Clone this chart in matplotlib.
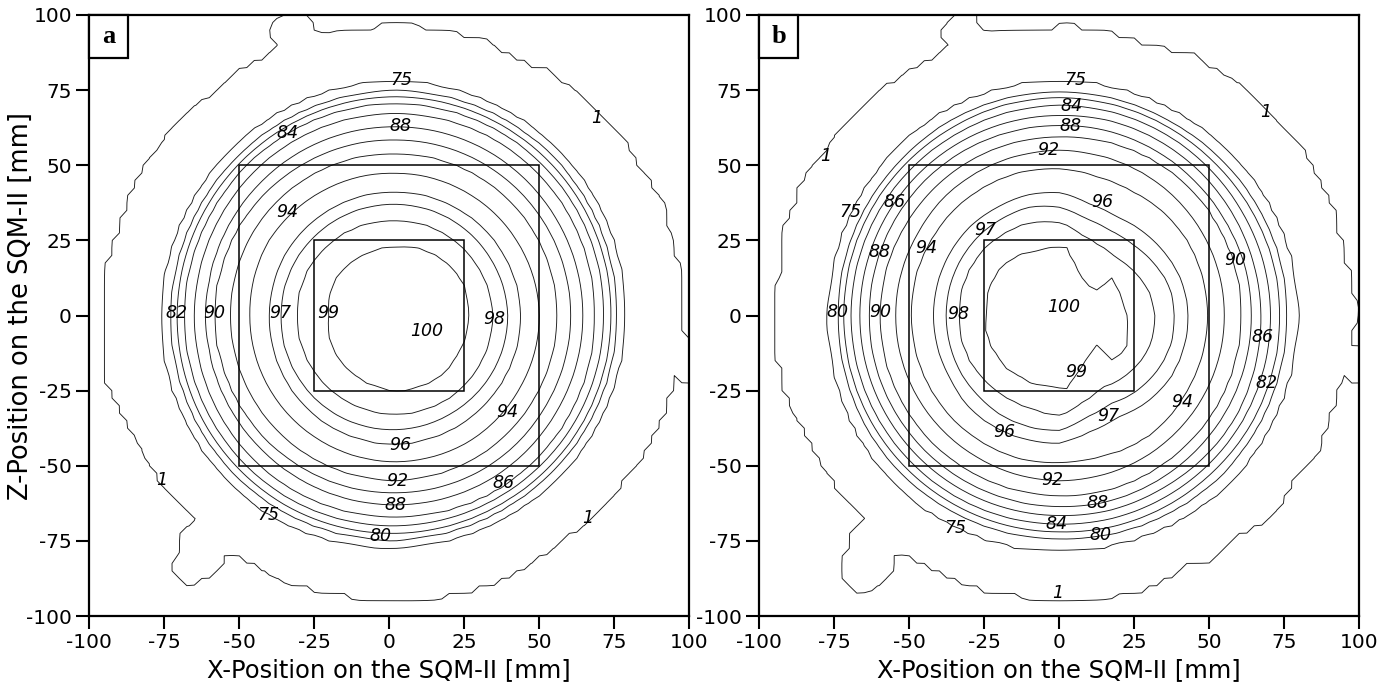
import numpy as np
import matplotlib
matplotlib.use("Agg")
import matplotlib.pyplot as plt
from matplotlib.path import Path
from matplotlib.patches import Rectangle

# ---------------- data ----------------
levels = [1, 75, 80, 82, 84, 86, 88, 90, 92, 94, 96, 97, 98, 99]
ticks = [-100, -75, -50, -25, 0, 25, 50, 75, 100]
boxes = [50, 25]
panel_names = ["a", "b"]

# Panel a: contour radii (mm) around the centre, at the listed angles (deg)
a_center = (2.0, 0.0)
a_angles = [0, 30, 60, 90, 120, 150, 180, 210, 240, 270, 300, 330]
a_r75 = [77.0, 77.5, 78.0, 78.4, 78.2, 78.0, 78.5, 78.7, 79.0, 77.5, 77.0, 77.0]
a_r80 = [74.0, 74.5, 75.0, 75.0, 74.8, 74.8, 75.0, 75.5, 75.5, 75.0, 74.0, 74.0]
a_r82 = [72.0, 72.3, 72.5, 72.8, 72.5, 72.5, 72.7, 73.0, 73.0, 72.5, 72.0, 72.0]
a_r84 = [69.5, 70.0, 70.5, 70.6, 70.6, 70.3, 70.5, 70.5, 70.5, 70.0, 69.5, 69.5]
a_r86 = [66.5, 67.0, 67.3, 67.3, 67.3, 67.0, 67.0, 67.3, 67.5, 67.2, 67.5, 67.0]
a_r88 = [62.5, 62.5, 62.8, 62.8, 63.0, 63.0, 63.0, 63.0, 63.0, 63.0, 63.0, 62.5]
a_r90 = [58.5, 58.5, 58.5, 58.4, 59.0, 60.0, 60.5, 60.0, 59.5, 59.0, 59.0, 58.5]
a_r92 = [54.0, 54.0, 54.0, 54.0, 54.5, 55.0, 55.0, 55.0, 55.0, 55.0, 54.5, 54.0]
a_r94 = [48.0, 47.5, 47.3, 47.3, 48.0, 49.0, 48.5, 48.5, 48.5, 48.6, 48.6, 48.0]
a_r96 = [42.0, 41.5, 41.2, 41.2, 41.5, 42.0, 42.0, 42.5, 43.0, 43.0, 42.5, 42.0]
a_r97 = [37.5, 37.0, 37.0, 37.1, 37.5, 38.0, 38.3, 38.5, 38.5, 38.0, 37.5, 37.5]
a_r98 = [32.7, 32.0, 31.8, 31.8, 32.3, 33.0, 33.0, 33.0, 33.0, 33.0, 33.0, 32.7]
a_r99 = [24.9, 25.2, 24.3, 22.9, 23.0, 23.5, 22.3, 23.8, 24.3, 25.2, 25.4, 24.7]

# Panel a: the irregular "1" contour (mm)
a_edge1_x = [-94, -94, -92, -88.4, -87.8, -84.2, -78.7, -70.9, -62, -53.1, -48.1, -43.1,
             -38.6, -33.7, -38.6, -38.1, -34.8, -34.5, -28.5, -28.1, -25.3, -22.5, -18.7,
             -13.1, -7.5, 1.9, 15.8, 31.3, 35.8, 47.5, 53.6, 62.5, 71.3, 78, 81.3, 84.7, 88,
             91.9, 93, 96.9, 97.5, 99, 106, 106, 100, 93.6, 93, 91.3, 86.9, 82.5, 75.8, 66.9,
             58, 49.1, 38, 29.1, 20.2, 6.9, -7.5, -18.7, -25.3, -37.5, -42, -49.8, -53.1,
             -55.5, -55.9, -62.5, -68.7, -72.2, -68.9, -68.7, -62.5, -67.5, -73.1, -77.5,
             -80.9, -84.2, -88.1, -94]
a_edge1_z = [-4.8, 10.7, 22.9, 28.5, 34, 42.9, 52.8, 62.8, 70.6, 77.3, 82.3, 83.9,
             87.8, 87.8, 93.3, 97.2, 99.4, 106, 106, 99.4, 93.9, 92.6, 92.6,
             93.9, 94.4, 96.7, 93.9, 91.1, 87.8, 82.3, 81.1, 72.8, 64, 57.3, 50.6, 46.2, 41.8,
             34, 23.5, 12.9, -5.9, -9.5, -9.5, -22, -22, -19.2, -24.8, -31.4, -40.3, -48.1, -57, -67,
             -73.6, -80.3, -86.9, -90.2, -92.4, -93.6, -93.3, -91.9, -90.2, -86.9, -83.6, -79.7, -77.8,
             -78.6, -84.1, -87.5, -89.1, -83.8, -78, -73, -67.8, -63.6, -58.6, -52.5,
             -45.9, -39.2, -33.7, -21.5]

# Panel b: contour radii (mm) around the centre, at the listed angles (deg)
b_center = (0.0, 0.0)
b_angles = [0, 15, 30, 45, 60, 75, 90, 105, 120, 135, 150, 165,
            180, 195, 210, 225, 240, 255, 270, 285, 300, 315, 330, 345]
b_r75 = [80, 80, 79.5, 79, 78.5, 78.5, 78.5, 78.5, 78.5, 78, 77.8, 77.5,
         77.5, 78, 78.5, 79, 79, 79, 79, 79, 79.5, 80, 80, 80]
b_r80 = [76, 76, 75.5, 75, 74.5, 74.5, 74.5, 74.5, 74.5, 74, 74, 74,
         73.8, 74, 74.5, 74.5, 74.5, 74.5, 74.5, 75, 75.5, 76, 76, 76]
b_r82 = [73.6, 73.5, 73, 72.5, 72.5, 72.5, 72.5, 72.5, 72, 72, 72, 72,
         72, 72, 72, 72, 72, 72, 72, 72.5, 72.8, 73, 73.5, 73.6]
b_r84 = [70.4, 70.3, 70, 70, 70, 70, 70, 69.8, 69.5, 69.5, 69.5, 69.5,
         69.5, 69.5, 69.5, 69.5, 69.5, 69.5, 69.5, 69.8, 70, 70.2, 70.3, 70.4]
b_r86 = [67.2, 67, 67, 67, 67, 67, 66.5, 66.5, 66.5, 66.5, 66.5, 66.5,
         66.5, 66.5, 66.5, 66.5, 66.5, 66.5, 66.5, 67, 67, 67.5, 68, 67.5]
b_r88 = [64, 64, 63.5, 63.5, 63.5, 63.5, 63.3, 63.3, 63.5, 63.5, 63.5, 63.4,
         63.4, 63.5, 63.5, 63.5, 63.5, 63.5, 63.8, 64, 64, 64, 64, 64]
b_r90 = [60.8, 61, 61, 61, 60.5, 60, 59.5, 59.5, 59.5, 59.5, 59.5, 59.8,
         59.8, 60, 60, 60, 60, 60, 60, 60.5, 60.5, 60.5, 60.8, 60.8]
b_r92 = [55, 55, 55, 55, 55, 55, 55, 55, 55, 55, 54.5, 54.5,
         54.5, 54.5, 54.5, 54.5, 54.5, 54.8, 55, 55, 55, 55, 55, 55]
b_r94 = [49.5, 49.5, 49.5, 49, 48, 48, 49, 49.5, 49.7, 49.7, 49.7, 49.7,
         49.5, 49.5, 49.5, 49.5, 49.5, 49.5, 49, 49, 50, 50, 49.5, 49.5]
b_r96 = [43, 42.5, 41, 39.5, 38, 38.5, 41, 41.5, 41.5, 42, 42, 42,
         42, 42, 42, 43, 43, 42.8, 42.5, 40, 39, 41, 42.5, 43]
b_r97 = [38.5, 38, 36, 34, 33, 33.5, 36, 37.5, 37.5, 37.7, 37.7, 37.7,
         37.7, 37.7, 38, 38, 38.5, 38.5, 38.3, 35, 34, 36, 37.5, 38.5]
b_r98 = [32, 31, 29, 27, 27, 28, 31.2, 32.5, 33, 33.5, 33.8, 33.8,
         33.8, 33.8, 33.5, 33, 32.5, 32.5, 33.5, 30, 28, 29.5, 31, 32]

# Panel b: the irregular "99" contour (mm)
b_edge99_x = [-2, 2.5, 8, 11.3, 12.5, 18, 21.3, 23, 22.5, 18, 12.5, 10.2, 2.5,
              -8.7, -17.5, -23.1, -24.8, -24.2, -19.8, -13.1]
b_edge99_z = [22.9, 22.9, 11.8, 8.5, 8.5, 12.9, 5.2, -1.5, -11.5, -15.4, -9.8, -13.1, -24.8,
              -23.1, -18.1, -10.4, -4.8, 8.5, 16.2, 20.7]

# Panel b: the irregular "1" contour (mm)
b_edge1_x = [-93.1, -93.1, -92, -92.5, -87.5, -87, -82, -78.1, -73.1, -66.4, -59.8, -53.1,
             -47.5, -42, -37, -33.1, -38.7, -35.9, -32, -31.8, -28.3, -28.1, -27, -23.1,
             -8.7, 2.5, 13.6, 34.7, 44.7, 50.2, 58, 64.7, 72.5, 80.2, 84.7, 90.2, 91.3,
             93.6, 96.3, 98, 97.5, 97.5, 99.7, 106, 106, 99.7, 97.5, 93.6, 91.3, 88, 86.9,
             82.5, 78, 74.7, 69.1, 58, 51.3, 42.5, 31.3, 22.5, 8, 0.2, -8.7, -23.1, -33.1,
             -39.8, -48.7, -52, -55.9, -55.9, -58.7, -62.5, -68.1, -71.4, -72.5, -69.2,
             -68.7, -63.1, -68.1, -73.1, -78.1, -82, -87, -91.4]
b_edge1_z = [-13.7, 8.5, 16.2, 25.1, 36.2, 41.8, 48.4, 52.8, 60.6, 68.4, 73.9, 78.4,
             81.7, 84.5, 88.4, 87.8, 93.5, 97.9, 99.4, 106, 106, 99.4, 93.9, 92.8,
             93.9, 95.8, 93.9, 87.8, 86.1, 81.7, 77.3, 72.8, 62.8, 55.1, 46.2, 36.2, 31.8,
             21.8, 12.9, 2.9, -4.8, -10.4, -11.5, -11.5, -21.5, -21.5, -22, -18.1, -28.1, -35.9, -42.5,
             -49.2, -53.6, -60.3, -67, -73.6, -80.3, -82.5, -89.1, -92.4, -93, -93.6, -93, -91.4, -87.5,
             -84.7, -80.3, -77.8, -78, -83.6, -87.5, -90.2, -91.4, -87.5, -83.6, -75.8,
             -72.5, -67.8, -62.5, -58.1, -49.2, -42.5, -33.7, -24.2]

# contour labels (level, x, z) as placed in the picture
a_lab_level = [75, 84, 88, 1, 94, 82, 90, 97, 99, 98, 94, 96, 92, 86, 88, 1, 75, 1, 80]
a_lab_x = [3.9, -34.1, 3.6, 69.2, -34.1, -70.8, -58.4, -36.4, -20.4, 34.9, 39.2, 3.6, 2.6,
           37.9, 2.2, -75.8, -40.4, 66.2, -2.8]
a_lab_z = [78.4, 60.7, 63.1, 65.7, 34.4, 0.8, 0.8, 0.8, 0.8, -1.2, -32.1, -43.1, -55.1,
           -55.7, -63.1, -54.7, -66.4, -67.4, -73.4]
a_peak = (12.6, -5.2)

b_lab_level = [75, 84, 88, 1, 1, 92, 75, 86, 96, 97, 88, 94, 90, 80, 90, 98, 86, 99, 82,
               94, 97, 96, 92, 88, 84, 80, 75, 1]
b_lab_x = [5.2, 3.9, 3.6, 68.9, -77.8, -3.8, -69.8, -54.8, 14.2, -24.8, -59.8, -44.4, 58.6,
           -73.8, -59.8, -33.8, 67.6, 5.6, 69.2, 40.9, 16.2, -18.4, -2.4, 12.6, -0.8, 13.6,
           -34.8, -0.4]
b_lab_z = [78.4, 69.7, 63.1, 67.7, 53.1, 55.1, 34.4, 37.7, 37.7, 28.4, 21.1, 22.5, 18.5,
           1.2, 1.2, 0.5, -7.2, -18.8, -22.5, -28.8, -33.4, -38.8, -54.7, -62.4, -69.4, -73.0,
           -70.7, -92.3]
b_peak = (1.6, 2.8)

# ---------------- field construction ----------------
step = 2.5
gx = np.arange(-100, 100 + step / 2, step)
X, Z = np.meshgrid(gx, gx)
P = np.column_stack([X.ravel(), Z.ravel()])


def polar_sd(center, angles, radii):
    dx = X - center[0]
    dz = Z - center[1]
    r = np.hypot(dx, dz)
    th = np.degrees(np.arctan2(dz, dx)) % 360
    rl = np.interp(th, angles, radii, period=360)
    return rl - r


def poly_sd(xs, zs):
    poly = np.column_stack([xs, zs])
    A = poly
    B = np.roll(poly, -1, axis=0)
    AB = B - A
    AP = P[:, None, :] - A[None, :, :]
    t = np.clip((AP * AB[None]).sum(-1) / (AB ** 2).sum(-1)[None], 0, 1)
    proj = A[None] + t[..., None] * AB[None]
    d = np.sqrt(((P[:, None, :] - proj) ** 2).sum(-1)).min(1)
    inside = Path(poly).contains_points(P)
    return np.where(inside, d, -d).reshape(X.shape)


def build_field(sds):
    SD = np.array(sds)
    nlev = len(levels)
    lev = np.array(levels, float)
    outside = SD <= 0
    has_out = outside.any(0)
    k = np.where(has_out, outside.argmax(0), nlev)
    V = np.empty(X.shape)
    m0 = k == 0
    V[m0] = lev[0] + 0.1 * SD[0][m0]
    mN = k == nlev
    V[mN] = lev[-1] + 0.06 * SD[-1][mN]
    mid = ~(m0 | mN)
    kk = k[mid]
    iy, ix = np.nonzero(mid)
    sa = SD[kk - 1, iy, ix]
    sb = SD[kk, iy, ix]
    V[mid] = lev[kk - 1] + (lev[kk] - lev[kk - 1]) * sa / (sa - sb)
    return V


a_radii = [a_r75, a_r80, a_r82, a_r84, a_r86, a_r88, a_r90, a_r92, a_r94, a_r96, a_r97, a_r98, a_r99]
sd_a = [poly_sd(a_edge1_x, a_edge1_z)] + [polar_sd(a_center, a_angles, r) for r in a_radii]
V_a = build_field(sd_a)

b_radii = [b_r75, b_r80, b_r82, b_r84, b_r86, b_r88, b_r90, b_r92, b_r94, b_r96, b_r97, b_r98]
sd_b = ([poly_sd(b_edge1_x, b_edge1_z)] + [polar_sd(b_center, b_angles, r) for r in b_radii]
        + [poly_sd(b_edge99_x, b_edge99_z)])
V_b = build_field(sd_b)

# ---------------- drawing ----------------
fig = plt.figure(figsize=(13.97, 6.92), dpi=100)
W, H = 1397, 692
ax_a = fig.add_axes([89.3 / W, (H - 616) / H, 600 / W, 601 / H])
ax_b = fig.add_axes([759.3 / W, (H - 616) / H, 600 / W, 601 / H])

panels = [(ax_a, V_a, a_lab_level, a_lab_x, a_lab_z, a_peak),
          (ax_b, V_b, b_lab_level, b_lab_x, b_lab_z, b_peak)]

for (ax, V, ll, lx, lz, peak), name in zip(panels, panel_names):
    ax.contour(X, Z, V, levels=levels, colors="#1a1a1a", linewidths=0.65)
    for h in boxes:
        ax.add_patch(Rectangle((-h, -h), 2 * h, 2 * h, fill=False, lw=1.1, ec="black", zorder=3))
    for lvl, x, z in zip(ll, lx, lz):
        ax.text(x, z, str(lvl), ha="center", va="center", fontsize=12.5, style="italic",
                color="black", zorder=4)
    ax.text(peak[0], peak[1], "100", ha="center", va="center", fontsize=12.5, style="italic",
            color="black", zorder=4)
    ax.set_xlim(-100, 100)
    ax.set_ylim(-100, 100)
    ax.set_xticks(ticks)
    ax.set_yticks(ticks)
    ax.set_xticklabels([str(t) for t in ticks])
    ax.set_yticklabels([str(t) for t in ticks])
    ax.tick_params(direction="out", length=9.5, width=1.5, labelsize=14.5, pad=3)
    for sp in ax.spines.values():
        sp.set_linewidth(1.6)
    ax.set_xlabel("X-Position on the SQM-II [mm]", fontsize=17.5, labelpad=4)
    # panel letter box
    ax.add_patch(Rectangle((0, 1 - 0.0715), 0.065, 0.0715, transform=ax.transAxes,
                           fill=True, fc="white", ec="black", lw=1.6, zorder=5, clip_on=False))
    ax.text(0.0325, 1 - 0.0357, name, transform=ax.transAxes, ha="center", va="center",
            fontsize=19, fontweight="bold", family="Liberation Serif", zorder=6)

ax_a.set_ylabel("Z-Position on the SQM-II [mm]", fontsize=18.5)
ax_a.yaxis.set_label_coords(-0.093, 0.515)

fig.savefig("out.png", dpi=100)
